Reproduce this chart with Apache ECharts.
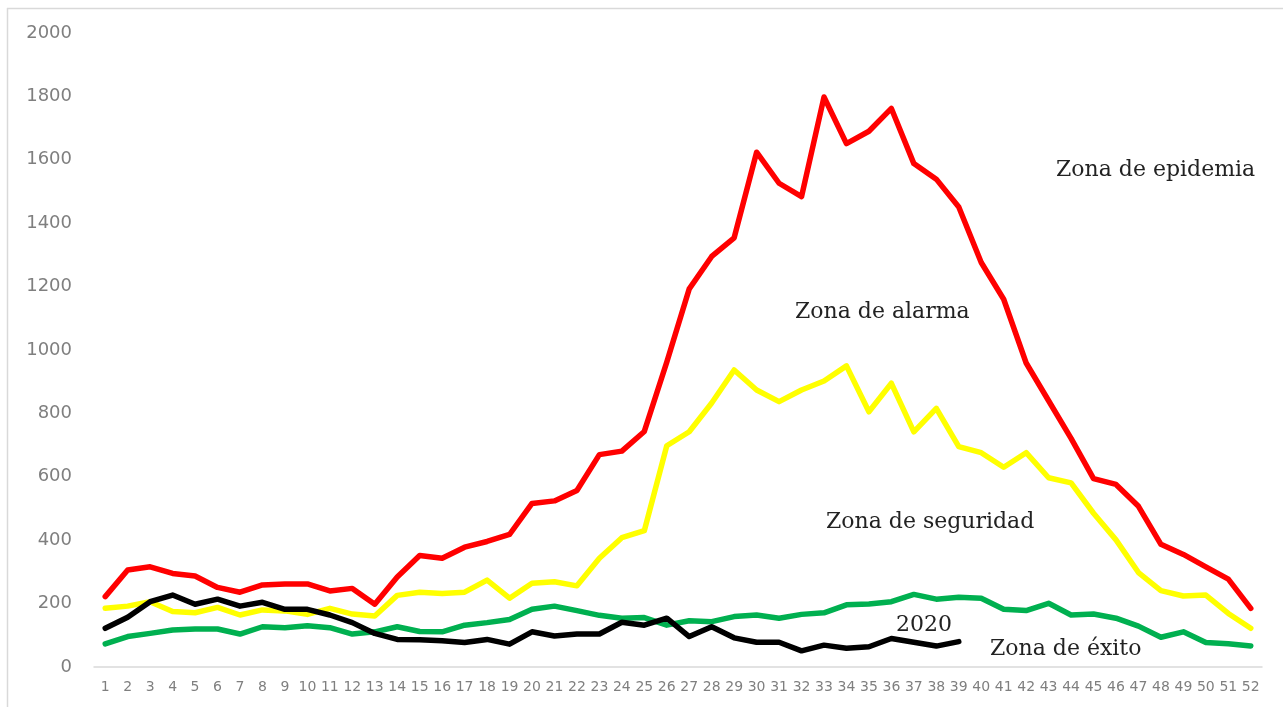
<!DOCTYPE html>
<html>
<head>
<meta charset="utf-8">
<script src="https://cdn.jsdelivr.net/npm/echarts@6/dist/echarts.min.js"></script>
<style>
html,body{margin:0;padding:0;background:#fff;}
#chart{width:1283px;height:707px;}
</style>
</head>
<body>
<div id="chart"></div>
<script>
const weeks = Array.from({length: 52}, (_, i) => String(i + 1));
const yTicks = { min: 0, max: 2000, interval: 200 };

const epidemia = [222, 306, 316, 295, 287, 251, 236, 259, 262, 262, 240, 248, 198, 284, 352, 343, 378, 396, 418, 516, 524, 557, 670, 681, 743, 962, 1193, 1295, 1354, 1624, 1526, 1484, 1798, 1651, 1690, 1762, 1588, 1539, 1451, 1276, 1160, 959, 840, 721, 594, 576, 507, 387, 355, 316, 277, 185];
const alarma = [185, 192, 206, 175, 171, 188, 164, 180, 177, 166, 185, 167, 161, 226, 236, 232, 236, 274, 217, 264, 269, 256, 343, 408, 430, 698, 742, 833, 937, 874, 837, 874, 902, 950, 805, 895, 742, 816, 695, 676, 630, 676, 597, 581, 485, 401, 298, 241, 224, 227, 169, 122];
const seguridad = [73, 96, 106, 117, 120, 120, 104, 127, 124, 130, 124, 104, 111, 127, 112, 111, 132, 140, 150, 182, 192, 178, 163, 154, 156, 132, 146, 143, 159, 164, 154, 166, 171, 196, 199, 206, 229, 214, 220, 217, 182, 178, 201, 164, 167, 154, 129, 94, 111, 77, 73, 66];
const year2020 = [122, 157, 206, 227, 198, 214, 192, 204, 182, 182, 164, 140, 106, 87, 86, 83, 77, 87, 72, 111, 98, 104, 104, 141, 132, 154, 96, 127, 92, 78, 78, 51, 69, 59, 64, 90, 78, 66, 80];

const zoneLabels = ['Zona de epidemia', 'Zona de alarma', 'Zona de seguridad', '2020', 'Zona de éxito'];

const chart = echarts.init(document.getElementById('chart'), null, {renderer: 'canvas'});

function line(name, data, color) {
  return {
    name: name, type: 'line', data: data, symbol: 'none', smooth: false,
    lineStyle: {color: color, width: 5.5, join: 'round', cap: 'round'},
    itemStyle: {color: color}, animation: false
  };
}

const serifFont = '22px "DejaVu Serif", serif';
function txt(x, y, t) {
  return {type: 'text', x: x, y: y, style: {text: t, font: serifFont, fill: '#222', textAlign: 'left', textVerticalAlign: 'middle'}};
}

chart.setOption({
  animation: false,
  backgroundColor: '#fff',
  grid: {left: 94, right: 21, top: 33, bottom: 40, containLabel: false},
  xAxis: {
    type: 'category', data: weeks, boundaryGap: true,
    axisLine: {lineStyle: {color: '#d9d9d9', width: 1.5}},
    axisTick: {show: false},
    axisLabel: {interval: 0, color: '#7f7f7f', fontSize: 14, fontFamily: 'DejaVu Sans', margin: 13},
    splitLine: {show: false}
  },
  yAxis: {
    type: 'value', min: yTicks.min, max: yTicks.max, interval: yTicks.interval,
    axisLine: {show: false}, axisTick: {show: false},
    axisLabel: {color: '#7f7f7f', fontSize: 18, fontFamily: 'DejaVu Sans', margin: 22, formatter: v => String(v)},
    splitLine: {show: false}
  },
  series: [
    line('Zona de epidemia', epidemia, '#ff0000'),
    line('Zona de alarma', alarma, '#ffff00'),
    line('Zona de seguridad', seguridad, '#00b050'),
    line('2020', year2020, '#000000')
  ],
  graphic: [
    {type: 'line', shape: {x1: 7.5, y1: 8, x2: 7.5, y2: 707}, style: {stroke: '#d9d9d9', lineWidth: 1.5}},
    {type: 'line', shape: {x1: 7, y1: 8.5, x2: 1283, y2: 8.5}, style: {stroke: '#d9d9d9', lineWidth: 1.5}},
    txt(1056, 170, zoneLabels[0]),
    txt(795, 312, zoneLabels[1]),
    txt(826, 522, zoneLabels[2]),
    txt(896, 625, zoneLabels[3]),
    txt(990, 649, zoneLabels[4])
  ]
});
</script>
</body>
</html>
